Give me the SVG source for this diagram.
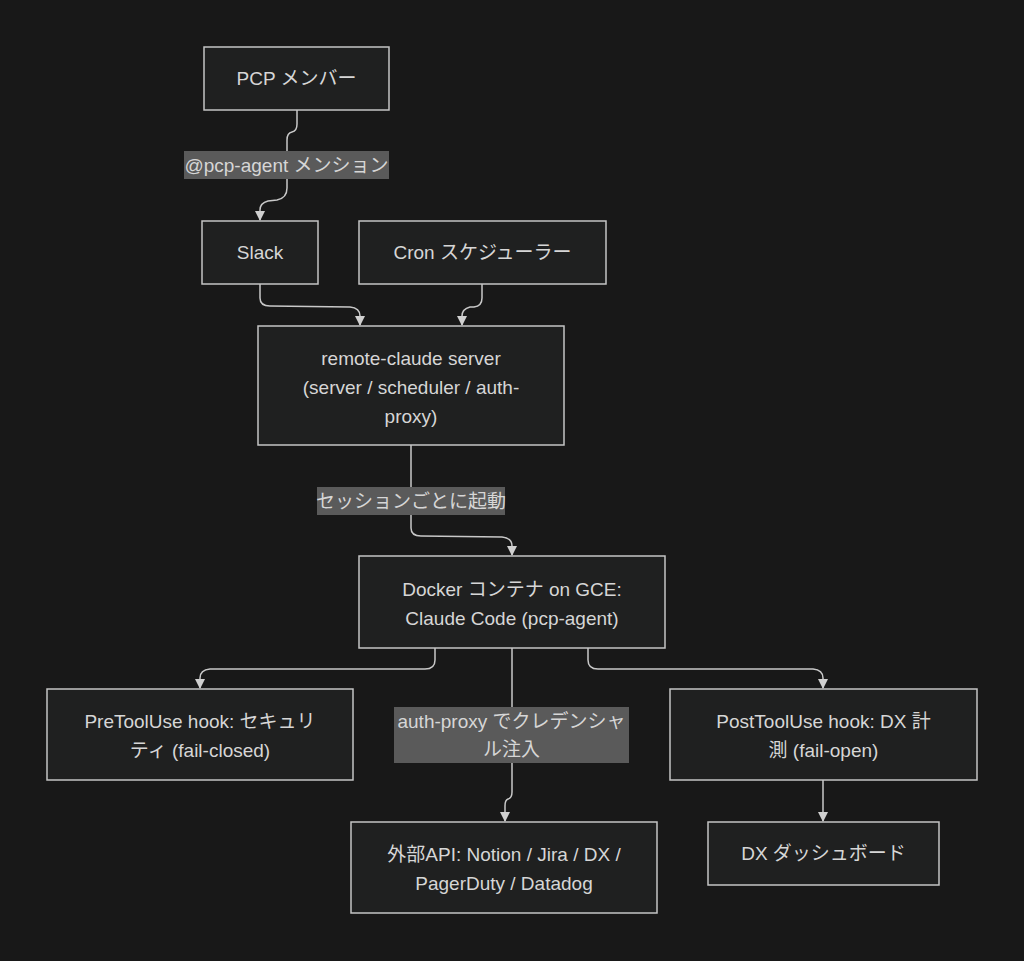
<svg xmlns="http://www.w3.org/2000/svg" width="1024" height="961" viewBox="0 0 1024 961">
<defs>
<style>
.bg{fill:#181818}
.node rect{fill:#1f2020;stroke:#c4c4c4;stroke-width:1.5}
.node text,.lbl text{font-family:"Liberation Sans","Noto Sans CJK JP",sans-serif;font-size:19px;fill:#d6d6d6;text-anchor:middle}
.edge{fill:none;stroke:#c8c8c8;stroke-width:1.5}
.lbl rect{fill:#5a5a5a}
</style>
<marker id="ah" viewBox="0 0 10 10" refX="9" refY="5" markerWidth="10" markerHeight="10" markerUnits="userSpaceOnUse" orient="auto">
<path d="M0,0 L10,5 L0,10 z" fill="#d0d0d0"/>
</marker>
</defs>
<rect class="bg" x="0" y="0" width="1024" height="961"/>

<g id="connectors">
<path class="edge" d="M297,110 L297,124 Q297,131 292,132 Q287,133 287,140 L287,188 Q287,198 277,200 L268,201 Q260,203 260,210 L260,220" marker-end="url(#ah)"/>
<path class="edge" d="M260,284 L260,298 Q260,306 270,306 L350,307 Q360,308 360,316 L360,325" marker-end="url(#ah)"/>
<path class="edge" d="M482,284 L482,298 Q482,306 474,307 L470,307 Q462,309 462,316 L462,325" marker-end="url(#ah)"/>
<path class="edge" d="M411,445 L411,528 Q411,536 421,536 L502,537 Q512,538 512,546 L512,555" marker-end="url(#ah)"/>
<path class="edge" d="M435,648 L435,660 Q435,669 425,669 L210,669 Q200,670 200,678 L200,688" marker-end="url(#ah)"/>
<path class="edge" d="M588,648 L588,660 Q588,669 598,669 L813,669 Q823,670 823,678 L823,688" marker-end="url(#ah)"/>
<path class="edge" d="M512,648 L512,792 Q512,798 508,799 Q505,800 505,806 L505,821" marker-end="url(#ah)"/>
<path class="edge" d="M823,780 L823,821" marker-end="url(#ah)"/>
</g>

<g id="edge-labels">
<g class="lbl" id="lbl-mention"><rect x="184" y="151" width="205" height="28"/><text x="286.5" y="172">@pcp-agent メンション</text></g>
<g class="lbl" id="lbl-launch"><rect x="317" y="487" width="188" height="28"/><text x="411" y="508">セッションごとに起動</text></g>
<g class="lbl" id="lbl-auth"><rect x="394" y="707" width="235" height="56"/><text x="511.5" y="728">auth-proxy でクレデンシャ</text><text x="511.5" y="756">ル注入</text></g>
</g>

<g class="node" id="pcp"><rect x="204" y="47" width="185" height="63"/><text x="296.5" y="85">PCP メンバー</text></g>
<g class="node" id="slack"><rect x="202" y="221" width="116" height="63"/><text x="260" y="259">Slack</text></g>
<g class="node" id="cron"><rect x="359" y="221" width="247" height="63"/><text x="482.5" y="259">Cron スケジューラー</text></g>
<g class="node" id="server"><rect x="258" y="326" width="306" height="119"/><text x="411" y="365">remote-claude server</text><text x="411" y="394">(server / scheduler / auth-</text><text x="411" y="423">proxy)</text></g>
<g class="node" id="docker"><rect x="359" y="556" width="306" height="92"/><text x="512" y="596">Docker コンテナ on GCE:</text><text x="512" y="625">Claude Code (pcp-agent)</text></g>
<g class="node" id="pre"><rect x="47" y="689" width="306" height="91"/><text x="200" y="728">PreToolUse hook: セキュリ</text><text x="200" y="757">ティ (fail-closed)</text></g>
<g class="node" id="post"><rect x="670" y="689" width="307" height="91"/><text x="823.5" y="728">PostToolUse hook: DX 計</text><text x="823.5" y="757">測 (fail-open)</text></g>
<g class="node" id="ext"><rect x="351" y="822" width="306" height="91"/><text x="504" y="861">外部API: Notion / Jira / DX /</text><text x="504" y="890">PagerDuty / Datadog</text></g>
<g class="node" id="dash"><rect x="708" y="822" width="231" height="63"/><text x="823.5" y="860">DX ダッシュボード</text></g>
</svg>
